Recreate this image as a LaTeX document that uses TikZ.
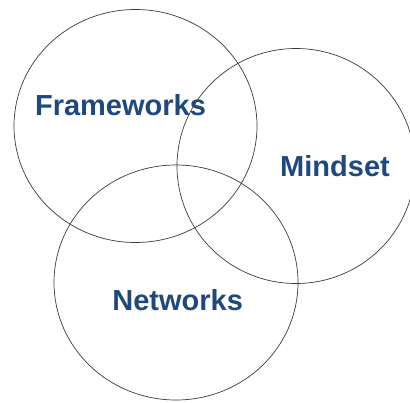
\documentclass[tikz,border=0pt]{standalone}
\usepackage{fontspec}
\setmainfont{Liberation Sans}
\usetikzlibrary{shapes.geometric}
\definecolor{labelblue}{HTML}{1F497D}
\definecolor{ringgray}{HTML}{3A3A3A}
\begin{document}
\begin{tikzpicture}[x=1pt,y=-1pt,
  ring/.style={ellipse,draw=ringgray,line width=0.7pt,minimum width=243pt,minimum height=233pt,inner sep=0pt},
  lbl/.style={anchor=base,text=labelblue,font=\fontsize{29}{29}\selectfont\bfseries,inner sep=0pt}]
\useasboundingbox (0,0) rectangle (410,402);
\clip (0,0) rectangle (410,402);
\node[ring] (fw) at (135.5,126) {};
\node[ring,minimum width=238pt,minimum height=235pt] (md) at (296,166) {};
\node[ring,minimum width=244pt,minimum height=235pt] (nw) at (176,282.5) {};
\node[lbl] (fwl) at (120.5,115) {Frameworks};
\node[lbl] (mdl) at (335,176.5) {Mindset};
\node[lbl] (nwl) at (177.7,310.5) {Networks};
\end{tikzpicture}
\end{document}
